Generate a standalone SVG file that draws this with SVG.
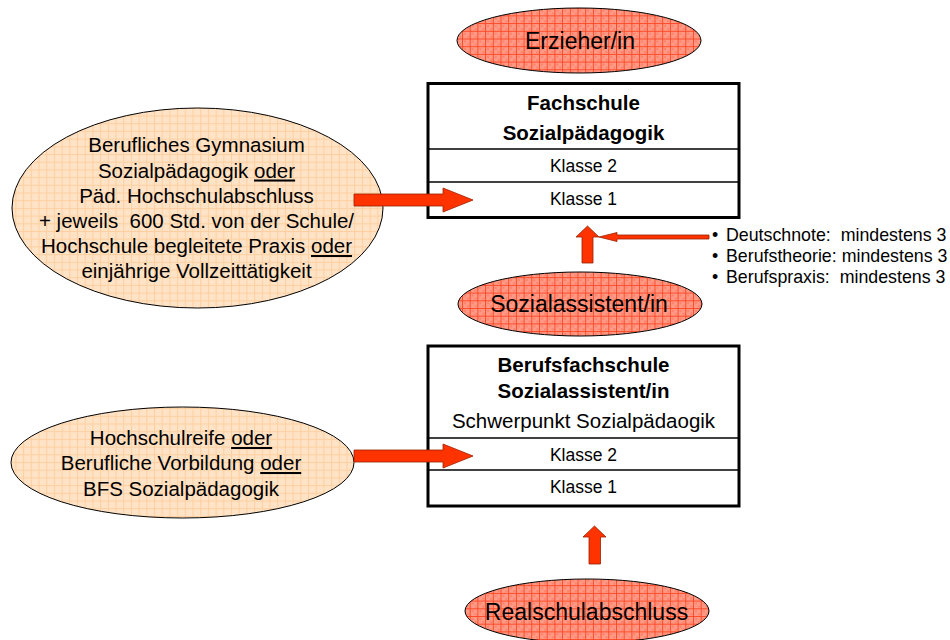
<svg xmlns="http://www.w3.org/2000/svg" width="950" height="640" viewBox="0 0 950 640">
<defs>
<pattern id="redGrid" patternUnits="userSpaceOnUse" width="7.7" height="7.7">
<rect width="7.7" height="7.7" fill="#FF9A86"/>
<rect x="2" y="2" width="2" height="2" fill="#FF8068"/>
<rect x="5" y="5" width="2" height="2" fill="#FF8068"/>
<rect width="7.7" height="1" fill="#FF4A28"/>
<rect width="1" height="7.7" fill="#FF4A28"/>
</pattern>
<pattern id="peachGrid" patternUnits="userSpaceOnUse" width="7.7" height="7.7">
<rect width="7.7" height="7.7" fill="#FFE3C6"/>
<rect width="7.7" height="1" fill="#FFCFA0"/>
<rect width="1" height="7.7" fill="#FFCFA0"/>
</pattern>
</defs>
<style>
text{font-family:"Liberation Sans",Arial,sans-serif;fill:#000;white-space:pre}
.red{fill:url(#redGrid);stroke:#000;stroke-width:1}
.peach{fill:url(#peachGrid);stroke:#000;stroke-width:1}
.box{fill:#fff;stroke:#000;stroke-width:3}
.div{stroke:#000;stroke-width:1.5}
.big{font-size:23px;text-anchor:middle}
.head{font-size:20.5px;font-weight:bold;text-anchor:middle}
.norm{font-size:20.5px;text-anchor:middle}
.kl{font-size:17.5px;text-anchor:middle}
.bul{font-size:17.8px}
.u{text-decoration:underline}
.arr{fill:#FF3300;stroke:#9A2000;stroke-width:0.8}
</style>
<rect width="950" height="640" fill="#fff"/>

<g id="erzieher">
<ellipse class="red" cx="579" cy="40.5" rx="122" ry="32.5"/>
<text class="big" x="580" y="49">Erzieher/in</text>
</g>

<g id="fachschule">
<rect class="box" x="428" y="83.5" width="311" height="134"/>
<line class="div" x1="428" y1="149" x2="739" y2="149"/>
<line class="div" x1="428" y1="182" x2="739" y2="182"/>
<text class="head" x="583.5" y="110">Fachschule</text>
<text class="head" x="583.5" y="140">Sozialpädagogik</text>
<text class="kl" x="583.5" y="172">Klasse 2</text>
<text class="kl" x="583.5" y="205">Klasse 1</text>
</g>

<g id="gymnasium">
<ellipse class="peach" cx="197.5" cy="208" rx="185.5" ry="100"/>
<text class="norm" x="196.5" y="152">Berufliches Gymnasium</text>
<text class="norm" x="196.5" y="177.5">Sozialpädagogik <tspan class="u">oder</tspan></text>
<text class="norm" x="196.5" y="202.5">Päd. Hochschulabschluss</text>
<text class="norm" x="196.5" y="228">+ jeweils  600 Std. von der Schule/</text>
<text class="norm" x="196.5" y="253">Hochschule begleitete Praxis <tspan class="u">oder</tspan></text>
<text class="norm" x="196.5" y="278">einjährige Vollzeittätigkeit</text>
</g>

<g id="sozialassistent">
<ellipse class="red" cx="580" cy="304" rx="122" ry="32"/>
<text class="big" x="579" y="312">Sozialassistent/in</text>
</g>

<g id="bedingungen">
<text class="bul" y="241"><tspan x="712">•</tspan><tspan x="726">Deutschnote:  mindestens 3</tspan></text>
<text class="bul" y="262"><tspan x="712">•</tspan><tspan x="726">Berufstheorie: mindestens 3</tspan></text>
<text class="bul" y="283"><tspan x="712">•</tspan><tspan x="726">Berufspraxis:  mindestens 3</tspan></text>
</g>

<g id="berufsfachschule">
<rect class="box" x="428" y="346" width="311" height="160"/>
<line class="div" x1="428" y1="438" x2="739" y2="438"/>
<line class="div" x1="428" y1="470" x2="739" y2="470"/>
<text class="head" x="583.5" y="372">Berufsfachschule</text>
<text class="head" x="583.5" y="397.5">Sozialassistent/in</text>
<text class="norm" x="583.5" y="428">Schwerpunkt Sozialpädaogik</text>
<text class="kl" x="583.5" y="461">Klasse 2</text>
<text class="kl" x="583.5" y="493">Klasse 1</text>
</g>

<g id="hochschulreife">
<ellipse class="peach" cx="182.5" cy="462.5" rx="171.5" ry="55.5"/>
<text class="norm" x="181" y="445">Hochschulreife <tspan class="u">oder</tspan></text>
<text class="norm" x="181" y="470">Berufliche Vorbildung <tspan class="u">oder</tspan></text>
<text class="norm" x="181" y="496">BFS Sozialpädagogik</text>
</g>

<g id="realschulabschluss">
<ellipse class="red" cx="587" cy="611" rx="122" ry="32"/>
<text class="big" x="586.5" y="620">Realschulabschluss</text>
</g>

<g id="connectors">
<polygon class="arr" points="354,194 443,194 443,188 473,200 443,212 443,206 354,206"/>
<polygon class="arr" points="354,450 443,450 443,444 473,456 443,468 443,462 354,462"/>
<polygon class="arr" points="582,263 582,237 576,237 587.5,226 599,237 593,237 593,263"/>
<polygon class="arr" points="589,564 589,537 583,537 594.5,526 606,537 600.5,537 600.5,564"/>
<polygon class="arr" points="709,235 617,235 617,232.5 599,237 617,241.5 617,239 709,239"/>
</g>
</svg>
